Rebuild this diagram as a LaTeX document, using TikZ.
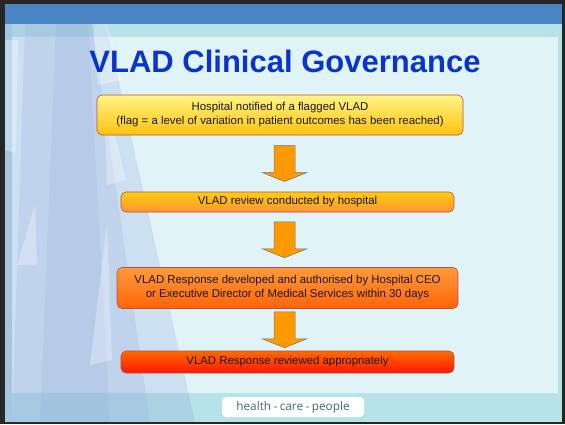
\documentclass[tikz,border=0pt]{standalone}
\usepackage{fontspec}
\setmainfont{Liberation Sans}
\newfontfamily\footfont{Open Sans}
\usetikzlibrary{calc}
\definecolor{bandblue}{HTML}{4A86C4}
\definecolor{framecyan}{HTML}{B7E3E8}
\definecolor{panelcyan}{HTML}{E0F4F7}
\definecolor{titleblue}{HTML}{0A35C8}
\definecolor{boxedge}{HTML}{B0504A}
\definecolor{yA}{HTML}{FFF488}
\definecolor{yB}{HTML}{FFC20A}
\definecolor{oA}{HTML}{FFCC10}
\definecolor{oB}{HTML}{FF9433}
\definecolor{rA}{HTML}{FF9A3C}
\definecolor{rB}{HTML}{FF6408}
\definecolor{qA}{HTML}{FF6A00}
\definecolor{qB}{HTML}{FF1800}
\definecolor{arrowfill}{HTML}{FF9900}
\definecolor{footteal}{HTML}{3A6C74}
\definecolor{dotgray}{HTML}{B8C4C6}
\definecolor{decoblue}{HTML}{8FA8DC}
\tikzset{
  box/.style={draw=boxedge, line width=0.6pt, rounded corners=5pt, align=center,
    inner sep=2pt, font=\fontsize{11.4}{14}\selectfont, text=black!90},
  blockarrowst/.style={fill=arrowfill, draw=black!55, line width=0.5pt},
  deco/.style={fill=decoblue, fill opacity=0.26, draw=none},
  decowhite/.style={fill=white, fill opacity=0.3, draw=none}
}
\newcommand\downblock[1]{%
  \path[blockarrowst] ($(#1)+(-10.5,-18)$) -- ($(#1)+(10.5,-18)$) -- ($(#1)+(10.5,9)$)
    -- ($(#1)+(22.5,9)$) -- ($(#1)+(0,18)$) -- ($(#1)+(-22.5,9)$) -- ($(#1)+(-10.5,9)$) -- cycle;}
\begin{document}
\begin{tikzpicture}[x=1pt,y=-1pt]
\useasboundingbox (0,0) rectangle (565,424);
% frame and background
\fill[black!85] (0,0) rectangle (565,424);
\fill[framecyan] (5,4) rectangle (562,422);
\fill[bandblue] (5,4) rectangle (562,24);
\fill[panelcyan] (12,37) rectangle (558,393);
% left decoration
\begin{scope}
\clip (5,24) rectangle (562,422);
\path[deco] (5,24) -- (106,24) -- (195,422) -- (5,422) -- cycle;
\path[deco, fill opacity=0.2] (25,24) -- (92,24) -- (150,422) -- (12,422) -- cycle;
\path[deco, fill opacity=0.2] (56,24) -- (88,24) -- (110,422) -- (40,422) -- cycle;
\path[deco, fill opacity=0.3] (5,24) -- (12,24) -- (12,422) -- (5,422) -- cycle;
\path[decowhite] (93,24) -- (107,24) -- (122,80) -- (98,85) -- cycle;
\path[decowhite] (5,40) -- (18,40) -- (16,153) -- (5,150) -- cycle;
\path[decowhite] (105,130) -- (114,130) -- (126,180) -- (107,185) -- cycle;
\path[decowhite] (35,205) -- (37,265) -- (17,265) -- cycle;
\path[decowhite] (107,223) -- (112,360) -- (90,365) -- cycle;
\end{scope}
% title
\node[text=titleblue, font=\bfseries\fontsize{31}{35}\selectfont] (title) at (285,61) {VLAD Clinical Governance};
% boxes
\node[box, minimum width=366pt, minimum height=40pt, top color=yA, bottom color=yB] (b1) at (280,115)
  {Hospital notified of a flagged VLAD\\(flag = a level of variation in patient outcomes has been reached)};
\node[box, minimum width=333pt, minimum height=20pt, top color=oA, bottom color=oB] (b2) at (287.5,202)
  {VLAD review conducted by hospital};
\node[box, minimum width=341pt, minimum height=41pt, top color=rA, bottom color=rB] (b3) at (287.5,288)
  {VLAD Response developed and authorised by Hospital CEO\\or Executive Director of Medical Services within 30 days};
\node[box, minimum width=333pt, minimum height=22pt, top color=qA, bottom color=qB] (b4) at (287.5,362)
  {VLAD Response reviewed appropriately};
% block arrows between boxes
\coordinate (ax) at (284.5,0);
\coordinate (m1) at ($(b1.south)!0.5!(b2.north)$);
\coordinate (m2) at ($(b2.south)!0.5!(b3.north)$);
\coordinate (m3) at ($(b3.south)!0.5!(b4.north)$);
\coordinate (c1) at (ax |- m1);
\coordinate (c2) at (ax |- m2);
\coordinate (c3) at (ax |- m3);
\downblock{c1}
\downblock{c2}
\downblock{c3}
% footer
\node[fill=white, rounded corners=4pt, minimum width=142pt, minimum height=20pt, inner sep=1pt,
  text=footteal, font=\footfont\fontsize{11.8}{13}\selectfont] (foot) at (293,407)
  {health {\color{dotgray}\raisebox{0.3ex}{\rule{2.5pt}{2.5pt}}} care {\color{dotgray}\raisebox{0.3ex}{\rule{2.5pt}{2.5pt}}} people};
\end{tikzpicture}
\end{document}
